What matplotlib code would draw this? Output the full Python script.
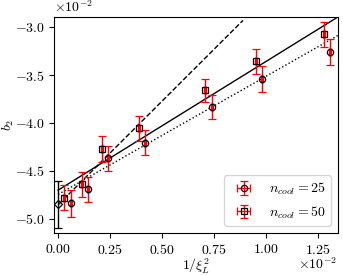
import numpy as np
import matplotlib
matplotlib.use('Agg')
import matplotlib.pyplot as plt
from matplotlib.ticker import MultipleLocator

# =========== Config grafov =========
plt.rcParams['font.family'] = 'serif'
plt.rcParams['font.serif'] = ['cmr10', 'DejaVu Serif']
plt.rcParams['mathtext.fontset'] = 'cm'
plt.rcParams['axes.formatter.use_mathtext'] = True
plt.rcParams['font.size'] = 10
# ===================================

scale = 1e-2

# n_cool = 25 (kruzky)
x25 = np.array([0.060, 0.145, 0.241, 0.419, 0.742, 0.983, 1.310])
y25 = np.array([-4.836, -4.691, -4.368, -4.208, -3.833, -3.545, -3.264])
dy25 = np.array([0.14, 0.13, 0.13, 0.13, 0.125, 0.135, 0.135])
dx25 = np.array([0.005, 0.005, 0.005, 0.005, 0.005, 0.005, 0.005])

# n_cool = 50 (stvorceky)
x50 = np.array([0.029, 0.116, 0.212, 0.390, 0.708, 0.954, 1.280])
y50 = np.array([-4.778, -4.639, -4.274, -4.055, -3.659, -3.357, -3.076])
dy50 = np.array([0.13, 0.13, 0.135, 0.13, 0.12, 0.13, 0.13])
dx50 = np.array([0.005, 0.005, 0.005, 0.005, 0.005, 0.005, 0.005])

# extrapolacia do kontinua
x0, y0, dy0 = 0.0, -4.849, 0.248

# fity: (usek, smernica, x_max)
fit50 = (-4.700, 1.34, 1.40)
fit25 = (-4.745, 1.23, 1.35)
fit_dash = (-4.853, 2.16, 0.89)

fig = plt.figure(figsize=(3.43, 2.75), dpi=100)
ax = fig.add_axes([0.158, 0.152, 0.8265, 0.787])

for (b, k, xmax), ls in [(fit50, '-'), (fit25, ':'), (fit_dash, '--')]:
    xx = np.linspace(0, xmax, 50)
    ax.plot(xx*scale, (b + k*xx)*scale, color='k', ls=ls, lw=1)

ax.errorbar(x25*scale, y25*scale, yerr=dy25*scale, xerr=dx25*scale, fmt='o',
            mfc='none', mec='k', mew=0.9, ms=4.5, ecolor='red', elinewidth=1,
            capsize=3, capthick=1, label=r'$n_{cool}=25$')
ax.errorbar(x50*scale, y50*scale, yerr=dy50*scale, xerr=dx50*scale, fmt='s',
            mfc='none', mec='k', mew=0.9, ms=4.5, ecolor='red', elinewidth=1,
            capsize=3, capthick=1, label=r'$n_{cool}=50$')
ax.errorbar([x0*scale], [y0*scale], yerr=[dy0*scale], fmt='D', mfc='none',
            mec='k', mew=0.9, ms=4, ecolor='k', elinewidth=1, capsize=3)

ax.set_xlim(-0.019*scale, 1.346*scale)
ax.set_ylim(-5.149*scale, -2.893*scale)
ax.xaxis.set_major_locator(MultipleLocator(0.25*scale))
ax.yaxis.set_major_locator(MultipleLocator(0.5*scale))
ax.ticklabel_format(axis='both', style='sci', scilimits=(-2, -2))
ax.xaxis.get_offset_text().set_visible(False)
ax.yaxis.get_offset_text().set_visible(False)
ax.text(1.0, -0.108, r'$\times 10^{-2}$', transform=ax.transAxes,
        ha='right', va='top')
ax.text(0.0, 1.045, r'$\times 10^{-2}$', transform=ax.transAxes,
        ha='left', va='center')

ax.set_xlabel(r'$1/\xi_L^2$', labelpad=0)
ax.set_ylabel(r'$b_2$', labelpad=-1)
ax.legend(loc='lower right', fontsize=10)

fig.savefig('out.png', dpi=100)
